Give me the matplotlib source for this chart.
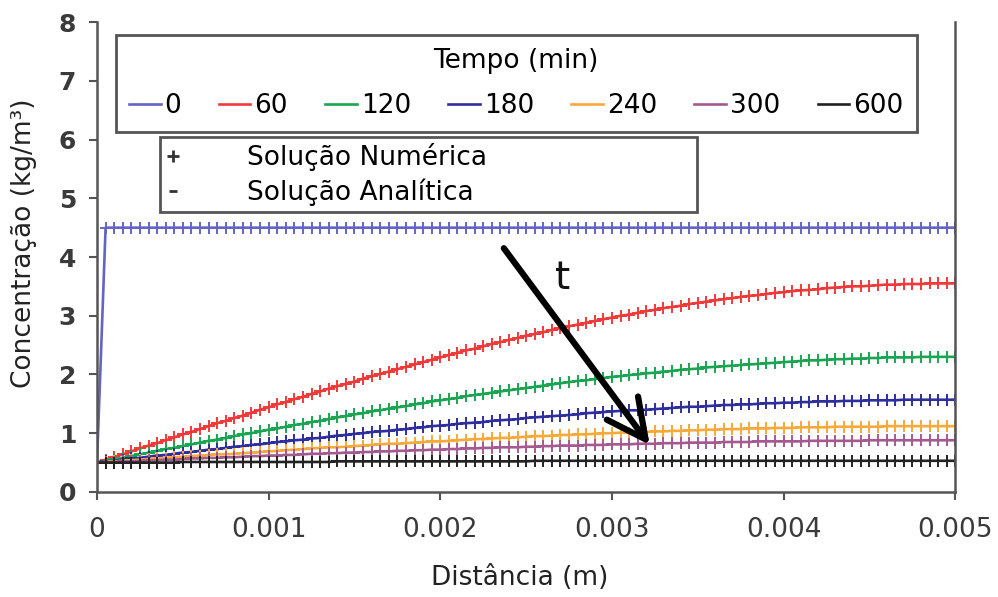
import numpy as np
import matplotlib
matplotlib.use("Agg")
import matplotlib.pyplot as plt
from matplotlib.lines import Line2D

plt.rcParams['font.family'] = ['DejaVu Sans']

# ---------------- data ----------------
distancia = np.round(np.arange(101) * 0.00005, 5)   # m

conc_0 = [0.50] + [4.50] * 100

conc_60 = [0.50, 0.55, 0.60, 0.64, 0.69, 0.74, 0.79, 0.83, 0.88, 0.93,
           0.98, 1.02, 1.07, 1.12, 1.17, 1.21, 1.26, 1.30, 1.35, 1.40,
           1.44, 1.49, 1.53, 1.58, 1.62, 1.67, 1.71, 1.76, 1.80, 1.84,
           1.88, 1.93, 1.97, 2.01, 2.05, 2.09, 2.13, 2.17, 2.21, 2.25,
           2.29, 2.33, 2.37, 2.41, 2.44, 2.48, 2.52, 2.55, 2.59, 2.62,
           2.66, 2.69, 2.72, 2.76, 2.79, 2.82, 2.85, 2.88, 2.91, 2.94,
           2.97, 3.00, 3.02, 3.05, 3.08, 3.10, 3.13, 3.15, 3.17, 3.20,
           3.22, 3.24, 3.26, 3.28, 3.30, 3.32, 3.34, 3.35, 3.37, 3.39,
           3.40, 3.42, 3.43, 3.44, 3.45, 3.47, 3.48, 3.49, 3.50, 3.50,
           3.51, 3.52, 3.53, 3.53, 3.54, 3.54, 3.54, 3.55, 3.55, 3.55,
           3.55]

conc_120 = [0.50, 0.53, 0.56, 0.58, 0.61, 0.64, 0.67, 0.70, 0.73, 0.75,
            0.78, 0.81, 0.84, 0.87, 0.89, 0.92, 0.95, 0.98, 1.00, 1.03,
            1.06, 1.08, 1.11, 1.14, 1.16, 1.19, 1.21, 1.24, 1.27, 1.29,
            1.32, 1.34, 1.37, 1.39, 1.42, 1.44, 1.46, 1.49, 1.51, 1.54,
            1.56, 1.58, 1.60, 1.63, 1.65, 1.67, 1.69, 1.71, 1.73, 1.75,
            1.77, 1.79, 1.81, 1.83, 1.85, 1.87, 1.89, 1.90, 1.92, 1.94,
            1.96, 1.97, 1.99, 2.00, 2.02, 2.03, 2.05, 2.06, 2.08, 2.09,
            2.10, 2.12, 2.13, 2.14, 2.15, 2.16, 2.17, 2.18, 2.19, 2.20,
            2.21, 2.22, 2.23, 2.24, 2.24, 2.25, 2.26, 2.26, 2.27, 2.27,
            2.28, 2.28, 2.29, 2.29, 2.29, 2.29, 2.30, 2.30, 2.30, 2.30,
            2.30]

conc_180 = [0.50, 0.52, 0.53, 0.55, 0.57, 0.58, 0.60, 0.62, 0.63, 0.65,
            0.67, 0.68, 0.70, 0.72, 0.73, 0.75, 0.77, 0.78, 0.80, 0.81,
            0.83, 0.85, 0.86, 0.88, 0.89, 0.91, 0.92, 0.94, 0.96, 0.97,
            0.99, 1.00, 1.02, 1.03, 1.04, 1.06, 1.07, 1.09, 1.10, 1.12,
            1.13, 1.14, 1.16, 1.17, 1.18, 1.19, 1.21, 1.22, 1.23, 1.24,
            1.26, 1.27, 1.28, 1.29, 1.30, 1.31, 1.32, 1.34, 1.35, 1.36,
            1.37, 1.38, 1.39, 1.39, 1.40, 1.41, 1.42, 1.43, 1.44, 1.45,
            1.45, 1.46, 1.47, 1.48, 1.48, 1.49, 1.49, 1.50, 1.51, 1.51,
            1.52, 1.52, 1.53, 1.53, 1.54, 1.54, 1.54, 1.55, 1.55, 1.55,
            1.56, 1.56, 1.56, 1.56, 1.57, 1.57, 1.57, 1.57, 1.57, 1.57,
            1.57]

conc_240 = [0.50, 0.51, 0.52, 0.53, 0.54, 0.55, 0.56, 0.57, 0.58, 0.59,
            0.60, 0.61, 0.62, 0.63, 0.64, 0.64, 0.65, 0.66, 0.67, 0.68,
            0.69, 0.70, 0.71, 0.72, 0.73, 0.74, 0.75, 0.76, 0.76, 0.77,
            0.78, 0.79, 0.80, 0.81, 0.82, 0.82, 0.83, 0.84, 0.85, 0.86,
            0.86, 0.87, 0.88, 0.89, 0.90, 0.90, 0.91, 0.92, 0.92, 0.93,
            0.94, 0.95, 0.95, 0.96, 0.97, 0.97, 0.98, 0.98, 0.99, 1.00,
            1.00, 1.01, 1.01, 1.02, 1.02, 1.03, 1.03, 1.04, 1.04, 1.05,
            1.05, 1.06, 1.06, 1.07, 1.07, 1.07, 1.08, 1.08, 1.08, 1.09,
            1.09, 1.09, 1.10, 1.10, 1.10, 1.10, 1.11, 1.11, 1.11, 1.11,
            1.11, 1.11, 1.12, 1.12, 1.12, 1.12, 1.12, 1.12, 1.12, 1.12,
            1.12]

conc_300 = [0.50, 0.51, 0.51, 0.52, 0.52, 0.53, 0.54, 0.54, 0.55, 0.55,
            0.56, 0.57, 0.57, 0.58, 0.58, 0.59, 0.59, 0.60, 0.61, 0.61,
            0.62, 0.62, 0.63, 0.63, 0.64, 0.65, 0.65, 0.66, 0.66, 0.67,
            0.67, 0.68, 0.68, 0.69, 0.69, 0.70, 0.70, 0.71, 0.71, 0.72,
            0.72, 0.73, 0.73, 0.74, 0.74, 0.75, 0.75, 0.76, 0.76, 0.76,
            0.77, 0.77, 0.78, 0.78, 0.79, 0.79, 0.79, 0.80, 0.80, 0.80,
            0.81, 0.81, 0.81, 0.82, 0.82, 0.82, 0.83, 0.83, 0.83, 0.84,
            0.84, 0.84, 0.84, 0.85, 0.85, 0.85, 0.85, 0.86, 0.86, 0.86,
            0.86, 0.86, 0.86, 0.87, 0.87, 0.87, 0.87, 0.87, 0.87, 0.87,
            0.88, 0.88, 0.88, 0.88, 0.88, 0.88, 0.88, 0.88, 0.88, 0.88,
            0.88]

conc_600 = [0.50] * 10 + [0.51] * 18 + [0.52] * 23 + [0.53] * 50

tempos = ['0', '60', '120', '180', '240', '300', '600']
series = [conc_0, conc_60, conc_120, conc_180, conc_240, conc_300, conc_600]
cores = ['#6464c4', '#f03a3a', '#1aa552', '#2e2e9c', '#f7a93a', '#a45a90', '#222222']

xticks = [0, 0.001, 0.002, 0.003, 0.004, 0.005]
xticklabels = ['0', '0.001', '0.002', '0.003', '0.004', '0.005']
yticks = [0, 1, 2, 3, 4, 5, 6, 7, 8]

# ---------------- figure ----------------
fig = plt.figure(figsize=(9.98, 5.97), dpi=100)
ax = fig.add_axes([0.0972, 0.176, 0.86, 0.787])

for y, c in zip(series, cores):
    ax.plot(distancia, y, color=c, lw=1.9, marker='+', ms=8, mew=1.4)

ax.set_xlim(0, 0.005)
ax.set_ylim(0, 8)
ax.set_xticks(xticks)
ax.set_xticklabels(xticklabels, fontsize=19, color='#3a3a3a')
ax.set_yticks(yticks)
ax.set_yticklabels([str(v) for v in yticks], fontsize=18, fontweight='bold', color='#3a3a3a')
ax.tick_params(axis='both', direction='out', length=6, width=1.5, color='#555555')
ax.tick_params(axis='y', pad=9)
ax.tick_params(axis='x', pad=12)

for s in ['left', 'bottom', 'right']:
    ax.spines[s].set_color('#555555')
    ax.spines[s].set_linewidth(1.8)
ax.spines['top'].set_visible(False)

ax.set_ylabel('Concentração (kg/m³)', fontsize=19, color='#222222')
ax.yaxis.set_label_coords(-0.07, 0.53)
ax.set_xlabel('Distância (m)', fontsize=19, color='#222222')
ax.xaxis.set_label_coords(0.493, -0.155)

# legend 1 (time)
handles1 = [Line2D([], [], color=c, lw=1.9) for c in cores]
leg1 = ax.legend(handles1, tempos, title='Tempo (min)', ncol=7, loc='upper left',
                 bbox_to_anchor=(0.022, 0.972, 0.933, 0.0), mode='expand',
                 fontsize=19, title_fontsize=19, handlelength=1.2, handletextpad=0.15,
                 columnspacing=0.4, borderaxespad=0, fancybox=False,
                 edgecolor='#555555', framealpha=1, borderpad=0.5, labelspacing=0.7)
leg1.get_frame().set_linewidth(2)
ax.add_artist(leg1)

# legend 2 (solution type)
handles2 = [Line2D([], [], color='#333333', marker='+', ls='none', ms=9, mew=2),
            Line2D([], [], color='#333333', marker='_', ls='none', ms=6, mew=2)]
leg2 = ax.legend(handles2, ['Solução Numérica', 'Solução Analítica'], loc='upper left',
                 bbox_to_anchor=(0.073, 0.755, 0.626, 0.0), mode='expand',
                 fontsize=19, handlelength=0.6, handletextpad=2.5, borderaxespad=0,
                 fancybox=False, edgecolor='#555555', framealpha=1,
                 borderpad=0.22, labelspacing=0.3)
leg2.get_frame().set_linewidth(2)

# arrow indicating time
ax.annotate('', xy=(0.00322, 0.80), xytext=(0.00237, 4.15),
            arrowprops=dict(arrowstyle='->,head_length=1.4,head_width=0.7',
                            lw=4.5, color='black', mutation_scale=20,
                            shrinkA=0, shrinkB=0))
ax.text(0.00271, 3.64, 't', fontsize=28, ha='center', va='center', color='#111111')

fig.savefig('out.png', dpi=100)
